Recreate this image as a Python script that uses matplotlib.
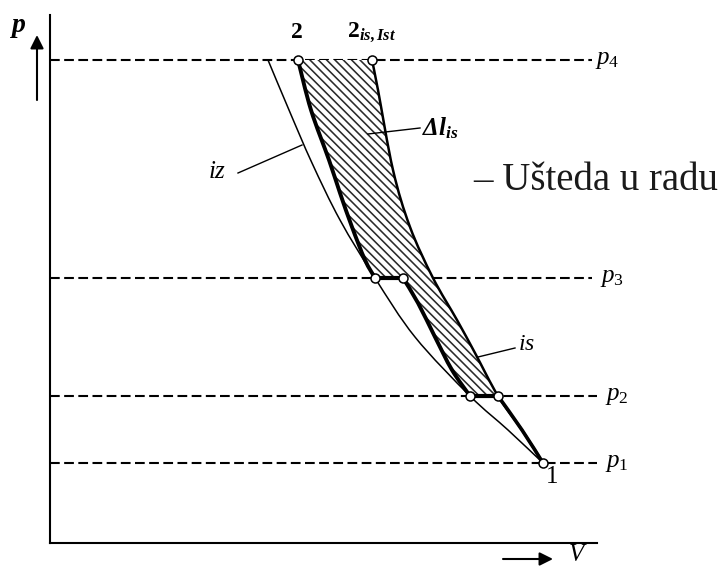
"""
p-V diagram: single-stage vs. three-stage compression with intercooling.
"""

import numpy as np
import matplotlib
matplotlib.use("Agg")
import matplotlib.pyplot as plt
from matplotlib.path import Path
from matplotlib.patches import PathPatch

plt.rcParams['font.family'] = ['Liberation Serif', 'DejaVu Serif']
plt.rcParams['mathtext.fontset'] = 'custom'
plt.rcParams['mathtext.rm'] = 'Liberation Serif'
plt.rcParams['mathtext.it'] = 'Liberation Serif:italic'
plt.rcParams['mathtext.bf'] = 'Liberation Serif:bold'
plt.rcParams['mathtext.bfit'] = 'Liberation Serif:italic:bold'
plt.rcParams['hatch.linewidth'] = 1.15
plt.rcParams['lines.scale_dashes'] = False

# pressure levels p1..p4 (diagram units)
p_levels = [8.0, 14.7, 26.5, 48.3]
p_labels = [r'$p_1$', r'$p_2$', r'$p_3$', r'$p_4$']
p_dash_end = [54.7, 54.7, 54.2, 54.2]
p_label_V = [55.5, 55.5, 55.0, 54.5]

# isothermal compression (iz), from p4 down to point 1
iso_V = [21.8, 23.9, 26.2, 29.0, 32.5, 36.5, 42.0, 45.8, 49.3]
iso_p = [48.3, 43.3, 38.0, 32.3, 26.5, 20.6, 14.7, 11.3, 8.0]

# single-stage isentrope (is), from 2_is,Ist down to point 1
is_V = [32.2, 32.8, 34.3, 36.0, 38.3, 40.7, 42.5, 44.8, 47.2, 49.3]
is_p = [48.3, 45.3, 37.3, 31.6, 26.5, 22.3, 19.0, 14.7, 11.3, 8.0]

# stage 2 isentrope (p2 -> p3) and stage 3 isentrope (p3 -> p4)
st2_V = [42.0, 40.2, 38.5, 36.8, 35.3]
st2_p = [14.7, 17.3, 20.6, 24.0, 26.5]
st3_V = [32.5, 31.5, 30.2, 29.0, 27.9, 26.1, 24.8]
st3_p = [26.5, 28.3, 31.6, 35.0, 38.3, 43.3, 48.3]


def smooth_segments(V, p):
    """Bezier segments (Catmull-Rom) through the given points, start point excluded."""
    pts = np.column_stack([V, p]).astype(float)
    n = len(pts)
    verts = []
    for i in range(n - 1):
        p0 = pts[max(i - 1, 0)]
        p1, p2 = pts[i], pts[i + 1]
        p3 = pts[min(i + 2, n - 1)]
        verts += [p1 + (p2 - p0) / 6, p2 - (p3 - p1) / 6, p2]
    return verts, [Path.CURVE4] * len(verts)


def smooth_line(ax, V, p, **kw):
    verts, codes = smooth_segments(V, p)
    path = Path([(V[0], p[0])] + verts, [Path.MOVETO] + codes)
    ax.add_patch(PathPatch(path, fill=False, capstyle='round', **kw))


fig = plt.figure(figsize=(7.26, 5.70), dpi=100)
ax = fig.add_axes([50 / 726, 27 / 570, 547 / 726, 528 / 570])
ax.set_xlim(0, 54.7)
ax.set_ylim(0, 52.8)
ax.set_xticks([])
ax.set_yticks([])
for side in ['top', 'right']:
    ax.spines[side].set_visible(False)
for side in ['left', 'bottom']:
    ax.spines[side].set_linewidth(1.5)

# dashed isobars
for p, x_end in zip(p_levels, p_dash_end):
    ax.plot([0, x_end], [p, p], color='black', lw=1.5, dashes=(7, 3.2),
            clip_on=False, zorder=1)
for p, lab, xl in zip(p_levels, p_labels, p_label_V):
    ax.text(xl, p, lab, fontsize=18, ha='left', va='center', clip_on=False)

# hatched area = work saved by staging
upper = [i for i, p in enumerate(is_p) if p >= p_levels[1]]
lower = [i for i, p in enumerate(is_p) if p <= p_levels[1]]
verts = [(st3_V[-1], st3_p[-1]), (is_V[0], is_p[0])]
codes = [Path.MOVETO, Path.LINETO]
for V, p, straight_to in [
        (np.array(is_V)[upper], np.array(is_p)[upper], None),
        (st2_V, st2_p, (st2_V[0], st2_p[0])),
        (st3_V, st3_p, (st3_V[0], st3_p[0]))]:
    if straight_to is not None:
        verts.append(straight_to)
        codes.append(Path.LINETO)
    v, c = smooth_segments(V, p)
    verts += v
    codes += c
verts.append(verts[0])
codes.append(Path.CLOSEPOLY)
ax.add_patch(PathPatch(Path(verts, codes), facecolor='white',
                       edgecolor='#2a2a2a', lw=0, hatch='\\\\\\\\', zorder=2))

# curves
smooth_line(ax, iso_V, iso_p, color='black', lw=1.1, zorder=3)
smooth_line(ax, is_V, is_p, color='black', lw=1.8, zorder=3)
smooth_line(ax, np.array(is_V)[lower], np.array(is_p)[lower], color='black',
            lw=2.6, zorder=4)
ax.plot([st2_V[0], is_V[lower[0]]], [p_levels[1]] * 2, color='black', lw=3.0, zorder=4)
smooth_line(ax, st2_V, st2_p, color='black', lw=2.8, zorder=4)
ax.plot([st3_V[0], st2_V[-1]], [p_levels[2]] * 2, color='black', lw=3.0, zorder=4)
smooth_line(ax, st3_V, st3_p, color='black', lw=2.8, zorder=4)

# state points
pts_V = [st3_V[-1], is_V[0], st3_V[0], st2_V[-1], st2_V[0], is_V[lower[0]], is_V[-1]]
pts_p = [st3_p[-1], is_p[0], st3_p[0], st2_p[-1], st2_p[0], is_p[lower[0]], is_p[-1]]
ax.plot(pts_V, pts_p, 'o', ms=6.5, mfc='white', mec='black', mew=1.1,
        zorder=5, clip_on=False)

# point labels
ax.text(24.7, 51.1, '2', fontsize=17, fontweight='bold', ha='center', va='center')
ax.text(29.7, 51.1, r'$\mathbf{2}_{\mathbfit{is,Ist}}$', fontsize=17,
        ha='left', va='center')
ax.text(50.2, 6.6, '1', fontsize=18, ha='center', va='center')

# curve labels with leader lines
ax.plot([31.8, 37.0], [40.9, 41.5], color='black', lw=1.0, zorder=6)
ax.text(37.2, 41.5, r'$\mathbfit{\Delta l}_{\mathbfit{is}}$', fontsize=18,
        ha='left', va='center')
ax.plot([42.8, 46.5], [18.6, 19.5], color='black', lw=1.0, zorder=6)
ax.text(46.8, 19.8, r'$is$', fontsize=17, ha='left', va='center')
ax.plot([18.8, 25.2], [37.0, 39.8], color='black', lw=1.0, zorder=6)
ax.text(16.7, 37.1, r'$iz$', fontsize=18, ha='center', va='center')

ax.text(42.3, 35.3, '– Ušteda u radu', fontsize=28, color='#1a1a1a',
        ha='left', va='baseline', clip_on=False)

# axis names with arrows
ax.annotate('', xy=(-1.3, 50.8), xytext=(-1.3, 44.3), annotation_clip=False,
            arrowprops=dict(arrowstyle='-|>', color='black', lw=1.5,
                            mutation_scale=20, shrinkA=0, shrinkB=0))
ax.annotate('', xy=(50.3, -1.6), xytext=(45.3, -1.6), annotation_clip=False,
            arrowprops=dict(arrowstyle='-|>', color='black', lw=1.5,
                            mutation_scale=20, shrinkA=0, shrinkB=0))
ax.text(-3.1, 51.5, r'$\mathbfit{p}$', fontsize=20, ha='center', va='center')
ax.text(52.8, -1.2, r'$V$', fontsize=18, ha='center', va='center')

fig.savefig('out.png', dpi=100)
